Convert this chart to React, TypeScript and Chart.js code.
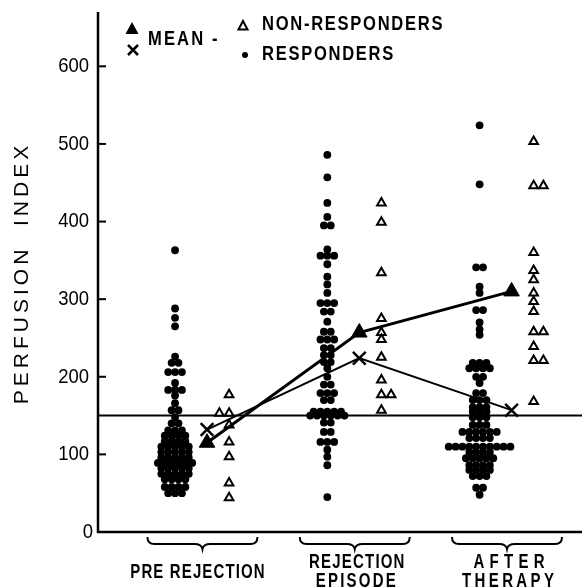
import React, { useEffect, useRef } from 'react';
import { Chart, registerables } from 'chart.js';

Chart.register(...registerables);

// ---------- data ----------
const categoryLabels: string[][] = [['PRE REJECTION'], ['REJECTION', 'EPISODE'], ['AFTER', 'THERAPY']];
const yTickValues = [0, 100, 200, 300, 400, 500, 600];
const normalLevel = 150;

const preResponders = [
  363, 288, 276, 265, 226, 218, 218, 206, 206, 206, 192, 183, 183, 183, 176, 166, 157, 157, 148,
  140, 140, 131, 131, 131, 124, 124, 124, 124, 117, 117, 117, 117, 110, 110, 110, 110, 110,
  103, 103, 103, 103, 103, 96, 96, 96, 96, 96, 89, 89, 89, 89, 89, 89, 82, 82, 82, 82, 82,
  75, 75, 75, 75, 75, 68, 68, 68, 68, 58, 58, 58, 58, 50, 50, 50,
];
const rejResponders = [
  486, 457, 424, 406, 395, 395, 364, 356, 356, 356, 345, 329, 319, 308, 295, 295, 295, 284, 284,
  271, 258, 258, 248, 248, 248, 237, 237, 228, 228, 219, 219, 211, 200, 190, 190, 179, 179, 179,
  170, 170, 155, 155, 155, 155, 155, 150, 150, 150, 150, 150, 150, 141, 141, 129, 129,
  116, 116, 116, 106, 97, 86, 45,
];
const afterResponders = [
  524, 448, 341, 341, 316, 308, 286, 286, 270, 261, 254, 218, 218, 218, 211, 211, 211, 211,
  200, 200, 192, 179, 179, 170, 170, 170, 161, 161, 161, 155, 155, 155, 148, 148, 148,
  138, 138, 138, 129, 129, 129, 129, 129, 129, 121, 121, 121, 121,
  110, 110, 110, 110, 110, 110, 110, 110, 110, 110, 103, 103, 103, 103, 95, 95, 95, 95, 95,
  86, 86, 86, 86, 80, 80, 80, 80, 72, 72, 72, 57, 57, 48,
];

const preNonResponders = [177, 153, 153, 138, 116, 97, 63, 44];
const rejNonResponders = [424, 399, 334, 275, 257, 248, 225, 196, 177, 177, 157];
const afterNonResponders = [503, 446, 446, 360, 337, 325, 308, 297, 284, 258, 258, 239, 221, 221, 168];

const responderMeans = [132, 224, 157];
const nonResponderMeans = [115, 257, 310];

// ---------- layout helpers ----------
const DOT_STEP = 0.045;
const TRI_STEP = 0.064;
const DOT_SHIFT = -0.18;
const TRI_SHIFT = 0.175;
const MEAN_SHIFT = 0.03;

type Mode = 'center' | 'right' | 'left';
function swarm(values: number[], center: number, step: number, mode: Mode) {
  const counts = new Map<number, number>();
  values.forEach((v) => counts.set(v, (counts.get(v) || 0) + 1));
  const seen = new Map<number, number>();
  return values.map((v) => {
    const n = counts.get(v) as number;
    const i = seen.get(v) || 0;
    seen.set(v, i + 1);
    const off = mode === 'center' ? i - (n - 1) / 2 : mode === 'right' ? i : -i;
    return { x: center + off * step, y: v };
  });
}

const FONT = '"Liberation Sans", Arial, sans-serif';

function drawText(
  ctx: CanvasRenderingContext2D,
  text: string,
  x: number,
  y: number,
  o: { size: number; bold?: boolean; sx?: number; ls?: number; align?: 'left' | 'center' | 'right' }
) {
  const sx = o.sx ?? 1;
  const ls = o.ls ?? 0;
  ctx.save();
  ctx.font = `${o.bold ? 'bold ' : ''}${o.size}px ${FONT}`;
  (ctx as any).letterSpacing = `${ls}px`;
  ctx.textBaseline = 'middle';
  ctx.textAlign = 'left';
  ctx.fillStyle = '#000';
  const w = ctx.measureText(text).width - ls;
  ctx.translate(x, y);
  ctx.scale(sx, 1);
  let start = 0;
  if (o.align === 'center') start = -w / 2;
  else if (o.align === 'right') start = -w;
  ctx.fillText(text, start, 0);
  ctx.restore();
}

const framePlugin = {
  id: 'frame',
  beforeDatasetsDraw(chart: any) {
    const ctx: CanvasRenderingContext2D = chart.ctx;
    const { left, right, top, bottom } = chart.chartArea;
    const ys = chart.scales.y;
    ctx.save();
    ctx.strokeStyle = '#000';
    ctx.lineCap = 'butt';
    // normal level line
    ctx.lineWidth = 2;
    const y150 = ys.getPixelForValue(normalLevel);
    ctx.beginPath();
    ctx.moveTo(left, y150);
    ctx.lineTo(chart.width, y150);
    ctx.stroke();
    // axes
    ctx.lineWidth = 2.5;
    ctx.beginPath();
    ctx.moveTo(left, top);
    ctx.lineTo(left, bottom);
    ctx.lineTo(chart.width, bottom);
    ctx.stroke();
    // inward ticks
    ctx.lineWidth = 2;
    yTickValues.forEach((v) => {
      if (v === 0) return;
      const y = ys.getPixelForValue(v);
      ctx.beginPath();
      ctx.moveTo(left, y);
      ctx.lineTo(left + 8, y);
      ctx.stroke();
    });
    ctx.restore();
  },
  afterDraw(chart: any) {
    const ctx: CanvasRenderingContext2D = chart.ctx;
    const { left } = chart.chartArea;
    const ys = chart.scales.y;
    const xs = chart.scales.x;
    // tick labels
    yTickValues.forEach((v) => {
      const y = ys.getPixelForValue(v);
      drawText(ctx, String(v), v === 0 ? left - 5 : left - 9, y, { size: 21, sx: 0.88, align: 'right' });
    });
    // y title
    ctx.save();
    ctx.translate(22, 275);
    ctx.rotate(-Math.PI / 2);
    drawText(ctx, 'PERFUSION  INDEX', 0, 0, { size: 21, ls: 4, align: 'center' });
    ctx.restore();
    // braces + category labels
    ctx.save();
    ctx.strokeStyle = '#000';
    ctx.lineWidth = 2;
    categoryLabels.forEach((lines, i) => {
      const cx = xs.getPixelForValue(i + 1);
      const h = 55;
      ctx.beginPath();
      ctx.moveTo(cx - h, 537);
      ctx.quadraticCurveTo(cx - h, 544, cx - h + 7, 544);
      ctx.lineTo(cx - 8, 544);
      ctx.quadraticCurveTo(cx - 1, 544, cx, 549);
      ctx.quadraticCurveTo(cx + 1, 544, cx + 8, 544);
      ctx.lineTo(cx + h - 7, 544);
      ctx.quadraticCurveTo(cx + h, 544, cx + h, 537);
      ctx.stroke();
      if (lines.length === 1) {
        drawText(ctx, lines[0], cx - 5, 572, { size: 20, bold: true, sx: 0.75, ls: 1.5, align: 'center' });
      } else {
        const lsTop = i === 2 ? 7 : 1.6;
        const lsBot = i === 2 ? 4.5 : 3;
        drawText(ctx, lines[0], cx + 2, 562, { size: 20, bold: true, sx: 0.75, ls: lsTop, align: 'center' });
        drawText(ctx, lines[1], cx + 1, 581, { size: 20, bold: true, sx: 0.75, ls: lsBot, align: 'center' });
      }
    });
    // legend
    ctx.fillStyle = '#000';
    // filled triangle
    ctx.beginPath();
    ctx.moveTo(132, 22);
    ctx.lineTo(138.5, 34);
    ctx.lineTo(125.5, 34);
    ctx.closePath();
    ctx.fill();
    // X
    ctx.lineWidth = 2.5;
    ctx.beginPath();
    ctx.moveTo(128, 45);
    ctx.lineTo(138, 55);
    ctx.moveTo(138, 45);
    ctx.lineTo(128, 55);
    ctx.stroke();
    // open triangle
    ctx.lineWidth = 2;
    ctx.beginPath();
    ctx.moveTo(243, 21);
    ctx.lineTo(247.5, 29.5);
    ctx.lineTo(238.5, 29.5);
    ctx.closePath();
    ctx.stroke();
    // dot
    ctx.beginPath();
    ctx.arc(245, 55, 3, 0, Math.PI * 2);
    ctx.fill();
    ctx.restore();
    drawText(ctx, 'MEAN -', 148, 40, { size: 19.5, bold: true, sx: 0.85, ls: 2.5 });
    drawText(ctx, 'NON-RESPONDERS', 262, 25, { size: 19.5, bold: true, sx: 0.85, ls: 2 });
    drawText(ctx, 'RESPONDERS', 262, 55, { size: 19.5, bold: true, sx: 0.85, ls: 2 });
  },
};

export default function App() {
  const ref = useRef<HTMLCanvasElement | null>(null);

  useEffect(() => {
    if (!ref.current) return;
    const responderPoints = [
      ...swarm(preResponders, 1 + DOT_SHIFT, DOT_STEP, 'center'),
      ...swarm(rejResponders, 2 + DOT_SHIFT, DOT_STEP, 'center'),
      ...swarm(afterResponders, 3 + DOT_SHIFT, DOT_STEP, 'center'),
    ];
    const nonResponderPoints = [
      ...swarm(preNonResponders, 1 + TRI_SHIFT, TRI_STEP, 'left'),
      ...swarm(rejNonResponders, 2 + TRI_SHIFT, TRI_STEP, 'right'),
      ...swarm(afterNonResponders, 3 + TRI_SHIFT, TRI_STEP, 'right'),
    ];
    const respMeanPts = responderMeans.map((v, i) => ({ x: i + 1 + MEAN_SHIFT, y: v }));
    const nonMeanPts = nonResponderMeans.map((v, i) => ({ x: i + 1 + MEAN_SHIFT, y: v }));

    const chart = new Chart(ref.current, {
      type: 'scatter',
      data: {
        datasets: [
          {
            label: 'Mean non-responders',
            data: nonMeanPts,
            showLine: true,
            borderColor: '#000',
            borderWidth: 3,
            pointStyle: 'triangle',
            pointRadius: 9,
            pointBackgroundColor: '#000',
            pointBorderColor: '#000',
            pointBorderWidth: 1,
            clip: false,
          } as any,
          {
            label: 'Mean responders',
            data: respMeanPts,
            showLine: true,
            borderColor: '#000',
            borderWidth: 2,
            pointStyle: 'crossRot',
            pointRadius: 9,
            pointBorderColor: '#000',
            pointBorderWidth: 2.5,
            clip: false,
          } as any,
          {
            label: 'Non-responders',
            data: nonResponderPoints,
            pointStyle: 'triangle',
            pointRadius: 5,
            pointBackgroundColor: '#fff',
            pointBorderColor: '#000',
            pointBorderWidth: 2,
            clip: false,
          } as any,
          {
            label: 'Responders',
            data: responderPoints,
            pointStyle: 'circle',
            pointRadius: 3.9,
            pointBackgroundColor: '#000',
            pointBorderColor: '#000',
            pointBorderWidth: 0,
            clip: false,
          } as any,
        ],
      },
      options: {
        responsive: false,
        animation: false,
        events: [],
        layout: { padding: { left: 98, top: 12, right: 0, bottom: 56 } },
        scales: {
          x: { type: 'linear', min: 0.314, max: 3.417, display: false },
          y: { type: 'linear', min: 0, max: 670, display: false },
        },
        plugins: { legend: { display: false }, tooltip: { enabled: false } },
      },
      plugins: [framePlugin],
    });
    return () => chart.destroy();
  }, []);

  return (
    <div style={{ position: 'fixed', left: 0, top: 0, width: 582, height: 588, background: '#fff' }}>
      <canvas ref={ref} width={582} height={588} style={{ display: 'block', width: 582, height: 588 }} />
    </div>
  );
}
